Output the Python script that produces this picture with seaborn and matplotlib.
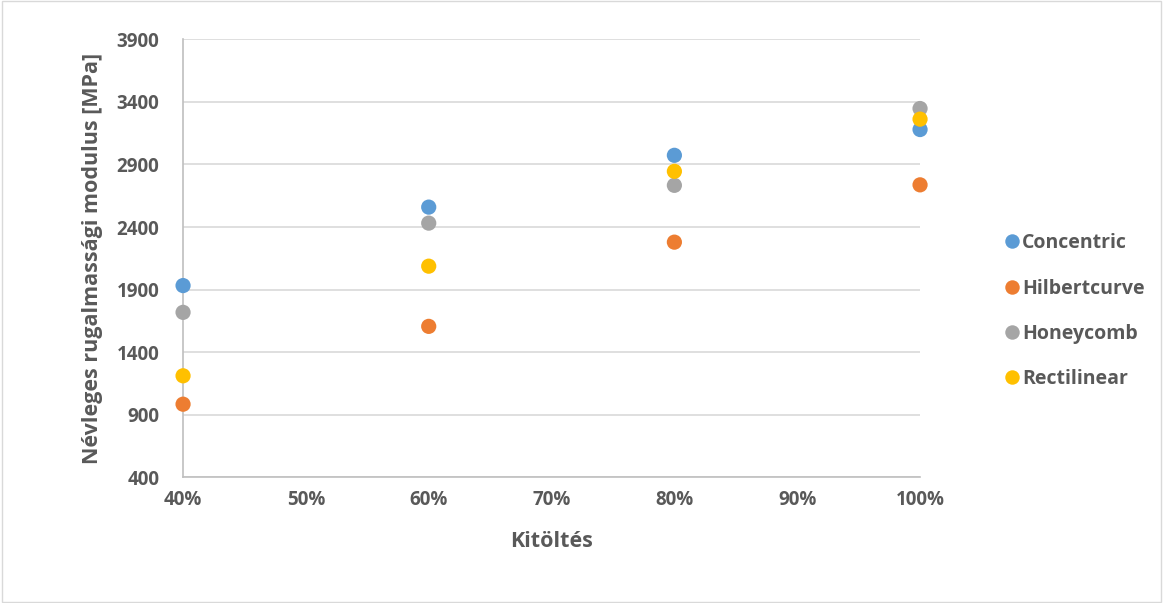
import pandas as pd
import seaborn as sns
import matplotlib.pyplot as plt
from matplotlib.ticker import PercentFormatter

# adatok
kitoltes = [0.4, 0.6, 0.8, 1.0]
concentric = [1932, 2559, 2973, 3179]
hilbertcurve = [984, 1606, 2279, 2737]
honeycomb = [1718, 2431, 2733, 3347]
rectilinear = [1211, 2087, 2845, 3262]

series = ['Concentric', 'Hilbertcurve', 'Honeycomb', 'Rectilinear']
colors = ['#5B9BD5', '#ED7D31', '#A5A5A5', '#FFC000']

df = pd.DataFrame({
    'Kitöltés': kitoltes * 4,
    'E': concentric + hilbertcurve + honeycomb + rectilinear,
    'Minta': sum([[s] * 4 for s in series], []),
})

sns.set_style('white')
plt.rcParams['font.family'] = ['Open Sans', 'DejaVu Sans']
txt = '#595959'

fig = plt.figure(figsize=(11.63, 6.03), dpi=100)
ax = fig.add_axes([0.1574, 0.2085, 0.6337, 0.7263])

sns.scatterplot(data=df, x='Kitöltés', y='E', hue='Minta', hue_order=series,
                palette=colors, s=120, edgecolor='none', ax=ax, zorder=3,
                clip_on=False)

ax.set_xlim(0.4, 1.0)
ax.set_ylim(400, 3900)
ax.set_xticks([0.4, 0.5, 0.6, 0.7, 0.8, 0.9, 1.0])
ax.set_yticks(range(400, 3901, 500))
ax.xaxis.set_major_formatter(PercentFormatter(1.0, decimals=0))
ax.grid(axis='y', color='#D9D9D9', linewidth=1.2)
ax.grid(axis='x', visible=False)
for side in ['top', 'right']:
    ax.spines[side].set_visible(False)
for side in ['left', 'bottom']:
    ax.spines[side].set_color('#BFBFBF')
    ax.spines[side].set_linewidth(1.2)
ax.tick_params(length=0, labelsize=13.5, labelcolor=txt)
ax.tick_params(axis='y', pad=17)
ax.tick_params(axis='x', pad=9)
for lab in ax.get_xticklabels() + ax.get_yticklabels():
    lab.set_fontweight('bold')

ax.set_xlabel('Kitöltés', fontsize=15.5, fontweight='bold', color=txt, labelpad=15)
ax.set_ylabel('Névleges rugalmassági modulus [MPa]', fontsize=15.5,
              fontweight='bold', color=txt, labelpad=10)

leg = ax.legend(loc='center left', bbox_to_anchor=(0.848, 0.484),
                bbox_transform=fig.transFigure, frameon=False,
                handlelength=0.8, handletextpad=0.15, labelspacing=1.3,
                markerscale=0.95, prop={'weight': 'bold', 'size': 14})
for t in leg.get_texts():
    t.set_color(txt)

fig.patches.append(plt.Rectangle((0.002, 0.002), 0.996, 0.996,
                                 transform=fig.transFigure, fill=False,
                                 edgecolor='#D9D9D9', linewidth=1))

fig.savefig('out.png', dpi=100)
